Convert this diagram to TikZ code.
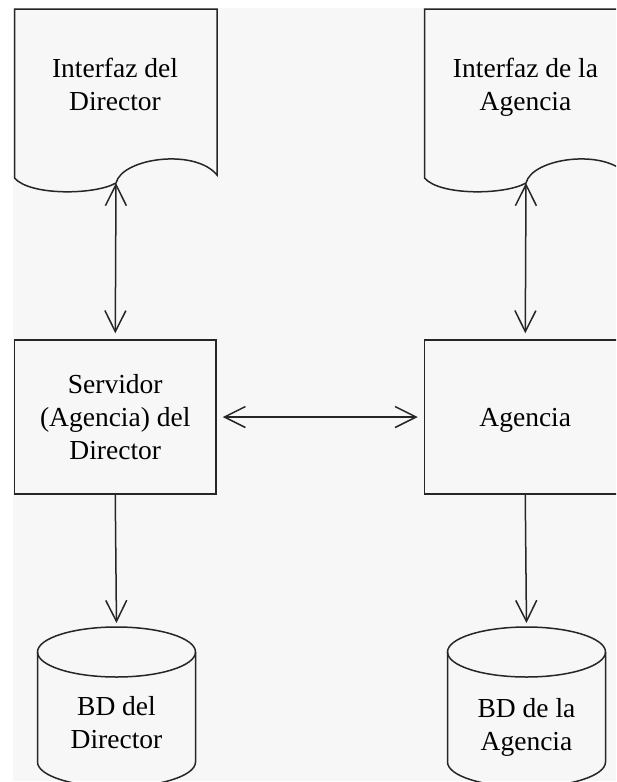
\documentclass[tikz,border=0pt]{standalone}
\usepackage{fontspec}
\setmainfont{Liberation Serif}
\usetikzlibrary{arrows.meta}
\definecolor{bgc}{HTML}{F7F7F7}
\definecolor{lnc}{HTML}{262626}
\begin{document}
\begin{tikzpicture}[x=1pt,y=-1pt,
  ln/.style={draw=lnc, line width=1.5pt},
  lbl/.style={font=\fontsize{27.5}{33}\selectfont, align=center, inner sep=0pt, text=black},
  boxshape/.style={ln, rectangle, minimum width=201.5pt, minimum height=154pt, inner sep=0pt,
    font=\fontsize{27.5}{33}\selectfont, align=center, text=black},
  link/.style={ln, >={Straight Barb[length=21pt,width=21pt]}},
]
\useasboundingbox (0,0) rectangle (616,782);
\fill[white] (0,0) rectangle (616,782);
\fill[bgc] (13,8) rectangle (616,781);
\begin{scope}
\clip (13,8) rectangle (616,781);
% documents
\coordinate (d1w) at (116,183);
\coordinate (d2w) at (526,183);
\draw[ln] (14.5,9) -- (14.5,178) .. controls (30,196) and (95,195) .. (d1w)
  .. controls (122,158) and (195,148) .. (217,175) -- (217,9) -- cycle;
\draw[ln] (424.5,9) -- (424.5,178) .. controls (440,196) and (505,195) .. (d2w)
  .. controls (532,158) and (605,148) .. (627,175) -- (627,9) -- cycle;
\node[lbl] (t1) at (115,84.1) {Interfaz del\\Director};
\node[lbl] (t2) at (525.5,87.1) {Interfaz de la\\Agencia};
% boxes
\node[boxshape] (b1) at (115.25,417) {Servidor\\(Agencia) del\\Director};
\node[boxshape, text depth=0pt] (b2) at (525.25,417) {Agencia};
% cylinders
\coordinate (c1top) at (116.5,627);
\coordinate (c2top) at (526.5,627);
\draw[ln] (116.5,652) ellipse [x radius=79, y radius=25];
\draw[ln] (37.5,652) -- (37.5,762) .. controls (37.5,775.8) and (72.9,787) .. (116.5,787)
  .. controls (160.1,787) and (195.5,775.8) .. (195.5,762) -- (195.5,652);
\draw[ln] (526.5,652) ellipse [x radius=79, y radius=25];
\draw[ln] (447.5,652) -- (447.5,762) .. controls (447.5,775.8) and (482.9,787) .. (526.5,787)
  .. controls (570.1,787) and (605.5,775.8) .. (605.5,762) -- (605.5,652);
\node[lbl] (ct1) at (116.5,723) {BD del\\Director};
\node[lbl] (ct2) at (526.5,727.6) {BD de la\\Agencia};
% connectors
\draw[link, <->, shorten >=6pt] (d1w) -- (b1.north);
\draw[link, <->, shorten >=6pt] (d2w) -- (b2.north);
\draw[link, <->, shorten <=6pt, shorten >=6pt] (b1.east) -- (b2.west);
\draw[link, ->, shorten >=4pt] (b1.south) -- (c1top);
\draw[link, ->, shorten >=4pt] (b2.south) -- (c2top);
\end{scope}
\end{tikzpicture}
\end{document}
